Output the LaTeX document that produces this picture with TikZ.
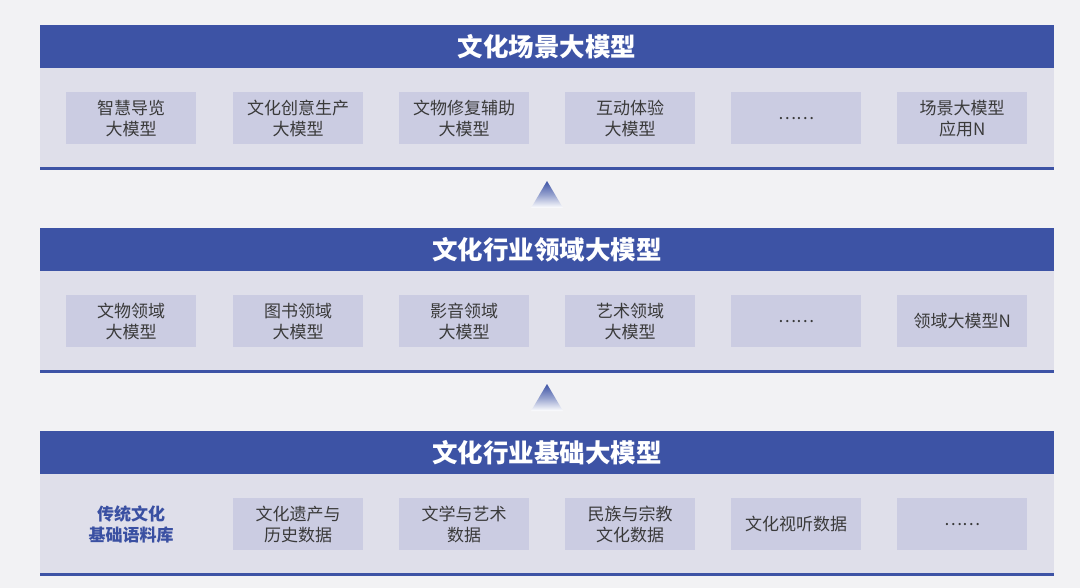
\documentclass[tikz,border=0pt]{standalone}
\usepackage{fontspec}
\setmainfont{Noto Sans CJK SC}
\usetikzlibrary{positioning}
\definecolor{bg}{HTML}{F2F2F4}
\definecolor{hdr}{HTML}{3D53A5}
\definecolor{body}{HTML}{DFDFEA}
\definecolor{cell}{HTML}{CBCCE2}
\definecolor{txt}{HTML}{3A3A3A}
\definecolor{btxt}{HTML}{3A50A2}
\tikzset{
  x=1pt,y=-1pt,
  header/.style={fill=hdr,draw=none,minimum width=1014pt,minimum height=43pt,anchor=north west,inner sep=0pt,text=white,font=\fontsize{25.5}{30}\selectfont\bfseries},
  panel/.style={fill=body,draw=none,minimum width=1014pt,minimum height=99pt,anchor=north west,inner sep=0pt},
  cellbox/.style={fill=cell,draw=none,minimum width=130pt,minimum height=52pt,anchor=north west,inner sep=0pt,text=txt,align=center,font=\fontsize{17}{21}\selectfont},
  plainbox/.style={cellbox,fill=none},
  baseline/.style={draw=hdr,line width=3pt},
}
\newcommand{\layertri}[2]{%
  \shade[top color=hdr,bottom color=white,middle color=hdr!55!white] (#1,#2) -- (#1+16,#2+27) -- (#1-16,#2+27) -- cycle;}
\begin{document}
\begin{tikzpicture}
\fill[bg] (0,0) rectangle (1080,588);
\useasboundingbox (0,0) rectangle (1080,588);
% layer 1
\node[panel] (p1) at (40,68) {};
\node[header] (h1) at (40,25) {文化场景大模型};
\draw[baseline] (40,168.5) -- (1054,168.5);
\node[cellbox] (a1) at (66,92) {智慧导览\\大模型};
\node[cellbox] (a2) at (233,92) {文化创意生产\\大模型};
\node[cellbox] (a3) at (399,92) {文物修复辅助\\大模型};
\node[cellbox] (a4) at (565,92) {互动体验\\大模型};
\node[cellbox] (a5) at (731,92) {……};
\node[cellbox] (a6) at (897,92) {场景大模型\\应用N};
% arrow 1
\layertri{547}{181}
% layer 2
\node[panel] (p2) at (40,271) {};
\node[header] (h2) at (40,228) {文化行业领域大模型};
\draw[baseline] (40,371.5) -- (1054,371.5);
\node[cellbox] (b1) at (66,295) {文物领域\\大模型};
\node[cellbox] (b2) at (233,295) {图书领域\\大模型};
\node[cellbox] (b3) at (399,295) {影音领域\\大模型};
\node[cellbox] (b4) at (565,295) {艺术领域\\大模型};
\node[cellbox] (b5) at (731,295) {……};
\node[cellbox] (b6) at (897,295) {领域大模型N};
% arrow 2
\layertri{547}{384}
% layer 3
\node[panel] (p3) at (40,474) {};
\node[header] (h3) at (40,431) {文化行业基础大模型};
\draw[baseline] (40,574.5) -- (1054,574.5);
\node[plainbox,text=btxt,font=\fontsize{17}{21}\selectfont\bfseries] (c1) at (66,498) {传统文化\\基础语料库};
\node[cellbox] (c2) at (233,498) {文化遗产与\\历史数据};
\node[cellbox] (c3) at (399,498) {文学与艺术\\数据};
\node[cellbox] (c4) at (565,498) {民族与宗教\\文化数据};
\node[cellbox] (c5) at (731,498) {文化视听数据};
\node[cellbox] (c6) at (897,498) {……};
\end{tikzpicture}
\end{document}
